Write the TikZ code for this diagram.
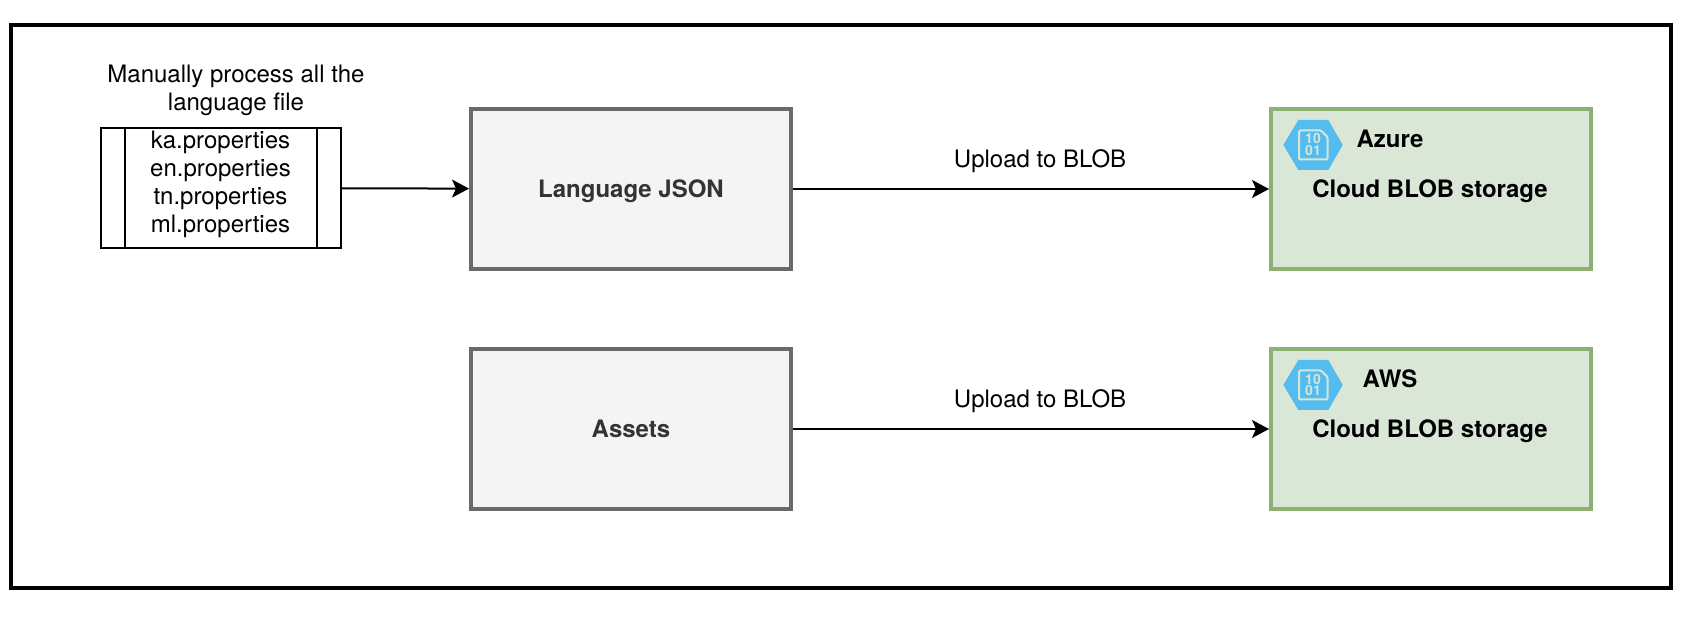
\documentclass[tikz,border=0pt]{standalone}
\usepackage{fontspec}
\setmainfont{TeX Gyre Heros}
\usetikzlibrary{arrows.meta}
\definecolor{hexblue}{HTML}{55BCEF}
\definecolor{docline}{HTML}{D3E6DC}
\definecolor{greyfill}{HTML}{F4F4F4}
\definecolor{greyline}{HTML}{6A6A6A}
\definecolor{greytext}{HTML}{333333}
\definecolor{greenfill}{HTML}{DAE7D7}
\definecolor{greenline}{HTML}{8CB170}
\tikzset{
  filebox/.style={draw=black, line width=1pt, minimum width=120pt, minimum height=60pt},
  greybox/.style={draw=greyline, fill=greyfill, line width=2pt, minimum width=160pt, minimum height=80pt, text=greytext, text depth=0pt, font=\fontsize{12}{14}\selectfont\bfseries},
  greenbox/.style={draw=greenline, fill=greenfill, line width=2pt, minimum width=160pt, minimum height=80pt},
  plainlabel/.style={align=center, inner sep=0pt, font=\fontsize{12}{14}\selectfont},
  boldlabel/.style={inner sep=0pt, text depth=0pt, font=\fontsize{12}{14}\selectfont\bfseries},
  flow/.style={-{Stealth[length=8.5pt, width=9pt, inset=2pt]}, line width=1pt, black},
}
\newcommand{\blobicon}[1]{%
  \fill[hexblue] (1283.3,#1) -- (1298.3,#1-25) -- (1328.3,#1-25) -- (1342.7,#1) -- (1328.3,#1+25) -- (1298.3,#1+25) -- cycle;
  \draw[docline, line width=1pt, rounded corners=0.6pt] (1299,#1-14.5) -- (1321,#1-14.5) -- (1327.5,#1-8) -- (1327.5,#1+14.5) -- (1299,#1+14.5) -- cycle;
  \node[font=\fontsize{7}{7}\selectfont\bfseries, text=docline, inner sep=0pt] (bits#1a) at (1313,#1-6) {10};
  \node[font=\fontsize{7}{7}\selectfont\bfseries, text=docline, inner sep=0pt] (bits#1b) at (1313,#1+5.5) {01};
}
\begin{document}
\begin{tikzpicture}[x=0.5pt, y=-0.5pt]
  \useasboundingbox (0,0) rectangle (1696,624);

  % Outer frame
  \draw[line width=2pt] (11,25) rectangle (1671,588);

  % Language files
  \node[plainlabel] (filesnote) at (236,90) {Manually process all the\\language file};
  \node[filebox] (files) at (221,188) {};
  \node[plainlabel] (filesnames) at (220.5,184.5) {ka.properties\\en.properties\\tn.properties\\ml.properties};
  \foreach \x in {125,317}
    \draw[line width=1pt] (\x,128) -- (\x,248);

  % Source boxes
  \node[greybox] (json) at (631,189) {Language JSON};
  \node[greybox] (assets) at (631,429) {Assets};

  % Azure storage
  \node[greenbox] (azure) at (1431,189) {};
  \blobicon{145}
  \node[boldlabel] (azurename) at (1390,139) {Azure};
  \node[boldlabel] (azureblob) at (1430,189) {Cloud BLOB storage};

  % AWS storage
  \node[greenbox] (aws) at (1431,429) {};
  \blobicon{385}
  \node[boldlabel] (awsname) at (1390,379) {AWS};
  \node[boldlabel] (awsblob) at (1430,429) {Cloud BLOB storage};

  % Connectors
  \draw[flow] (files) -- (json);
  \draw[flow] (json) -- node[plainlabel, above=7.5pt, xshift=4.5pt] (uploadazure) {Upload to BLOB} (azure);
  \draw[flow] (assets) -- node[plainlabel, above=7.5pt, xshift=4.5pt] (uploadaws) {Upload to BLOB} (aws);
\end{tikzpicture}
\end{document}
